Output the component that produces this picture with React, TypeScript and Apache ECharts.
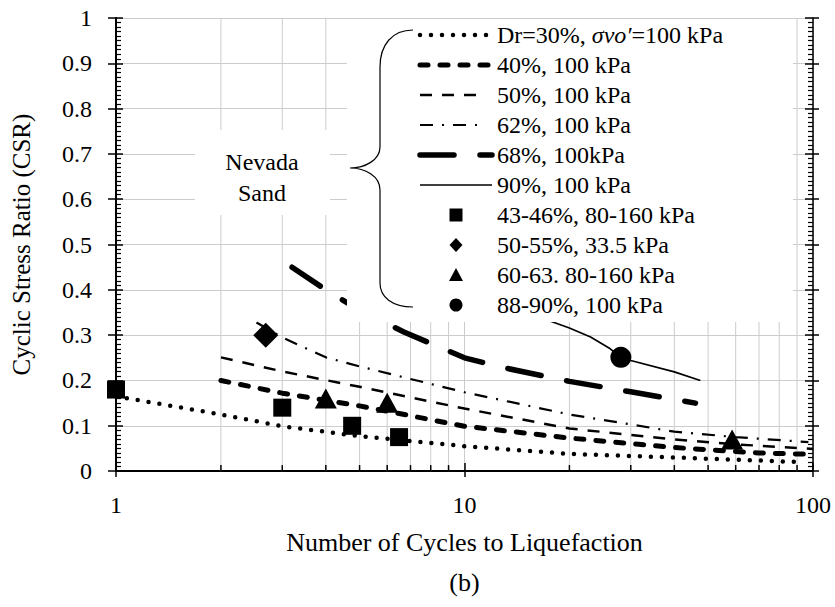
import React, { useEffect, useRef } from "react";
import * as echarts from "echarts";

const FONT = "Liberation Serif";

// ---- data ----
const minorX = [2, 3, 4, 5, 6, 7, 8, 9, 20, 30, 40, 50, 60, 70, 80, 90];

const dr30N = [1, 2, 3, 5, 10, 20, 40, 92];
const dr30CSR = [0.165, 0.125, 0.099, 0.077, 0.055, 0.038, 0.03, 0.02];

const dr40N = [2, 3, 5, 10, 20, 40, 70, 100];
const dr40CSR = [0.2, 0.172, 0.144, 0.099, 0.073, 0.052, 0.04, 0.037];

const dr50N = [2, 3, 5, 10, 20, 30, 40, 60, 100];
const dr50CSR = [0.251, 0.22, 0.186, 0.138, 0.094, 0.08, 0.07, 0.059, 0.049];

const dr62N = [2.53, 3, 4, 5, 10, 20, 30, 40, 60, 97];
const dr62CSR = [0.328, 0.295, 0.251, 0.231, 0.174, 0.125, 0.103, 0.087, 0.075, 0.064];

const dr68N = [3.2, 4, 5, 6.7, 10, 13, 20, 30, 46];
const dr68CSR = [0.45, 0.4, 0.355, 0.307, 0.25, 0.228, 0.198, 0.175, 0.15];

const dr90N = [12, 14.7, 20, 23, 26.2, 28.1, 30, 40, 47.5];
const dr90CSR = [0.375, 0.353, 0.316, 0.296, 0.27, 0.251, 0.244, 0.219, 0.2];

const sqN = [1, 3.0, 4.76, 6.49];
const sqCSR = [0.18, 0.14, 0.1, 0.075];
const diaN = [2.69];
const diaCSR = [0.3];
const triN = [4.0, 6.0, 58.6];
const triCSR = [0.16, 0.151, 0.07];
const cirN = [28.1];
const cirCSR = [0.251];

const legendLabels = [
  "Dr=30%, σvo′=100 kPa",
  "40%, 100 kPa",
  "50%, 100 kPa",
  "62%, 100 kPa",
  "68%, 100kPa",
  "90%, 100 kPa",
  "43-46%, 80-160 kPa",
  "50-55%, 33.5 kPa",
  "60-63. 80-160 kPa",
  "88-90%, 100 kPa",
];

const xAxisTitle = "Number of Cycles to Liquefaction";
const subTitle = "(b)";
const yAxisTitle = "Cyclic Stress Ratio (CSR)";

// ---- styles ----
const lineStyles: any[] = [
  { width: 4.5, type: [0, 11], cap: "round" },
  { width: 5, type: [8, 12], cap: "round" },
  { width: 2.5, type: [12, 10], cap: "butt" },
  { width: 2.2, type: [13, 9, 2, 9], cap: "butt" },
  { width: 5.5, type: [34, 26], cap: "round" },
  { width: 1.6, type: "solid", cap: "butt" },
];
const legendLineEnds = [492, 492, 478, 483, 492, 492];

const BRACE_D =
  "M413,30 C392,30 380,45 380,67 L380,147 C380,160 365,168 350,168 C365,168 380,176 380,190 L380,283 C380,297 392,307 413,307";

const zip = (a: number[], b: number[]) => a.map((v, i) => [v, b[i]]);

function buildOption() {
  const lineData = [
    zip(dr30N, dr30CSR),
    zip(dr40N, dr40CSR),
    zip(dr50N, dr50CSR),
    zip(dr62N, dr62CSR),
    zip(dr68N, dr68CSR),
    zip(dr90N, dr90CSR),
  ];

  const lineSeries = lineData.map((d, i) => ({
    type: "line",
    name: legendLabels[i],
    data: d,
    xAxisIndex: 0,
    yAxisIndex: 0,
    showSymbol: false,
    symbol: "none",
    silent: true,
    z: 2,
    lineStyle: { color: "#000", opacity: 1, ...lineStyles[i] },
  }));

  const scatterDefs = [
    { data: zip(sqN, sqCSR), symbol: "rect", size: 18, name: legendLabels[6] },
    { data: zip(diaN, diaCSR), symbol: "diamond", size: 25, name: legendLabels[7] },
    { data: zip(triN, triCSR), symbol: "triangle", size: [22, 20], name: legendLabels[8] },
    { data: zip(cirN, cirCSR), symbol: "circle", size: 21, name: legendLabels[9] },
  ];
  const scatterSeries = scatterDefs.map((s) => ({
    type: "scatter",
    name: s.name,
    data: s.data,
    symbol: s.symbol,
    symbolSize: s.size,
    xAxisIndex: 0,
    yAxisIndex: 0,
    clip: false,
    silent: true,
    z: 3,
    itemStyle: { color: "#000", opacity: 1 },
  }));

  const minorSeries = {
    type: "custom",
    xAxisIndex: 0,
    yAxisIndex: 0,
    z: 1,
    silent: true,
    data: minorX.map((v) => [v, 0]),
    encode: { x: 0, y: 1 },
    renderItem: (_p: any, api: any) => {
      const v = api.value(0);
      const b = api.coord([v, 0]);
      const t = api.coord([v, 1]);
      return {
        type: "group",
        children: [
          {
            type: "line",
            shape: { x1: b[0], y1: b[1], x2: t[0], y2: t[1] },
            style: { stroke: "#cccccc", lineWidth: 1 },
          },
          {
            type: "line",
            shape: { x1: b[0], y1: b[1], x2: b[0], y2: b[1] - 6 },
            style: { stroke: "#000", lineWidth: 1.5 },
          },
        ],
      };
    },
  };

  // ---- legend graphic ----
  const rowY = (i: number) => 35 + 30 * i;
  const txt = (text: string, x: number, y: number, align: string, rich?: any) => ({
    type: "text",
    x,
    y,
    z: 51,
    style: {
      text,
      fontSize: 24,
      fontFamily: FONT,
      fill: "#000",
      align,
      verticalAlign: "middle",
      textAlign: align,
      textVerticalAlign: "middle",
      rich,
    },
  });
  const graphics: any[] = [
    { type: "rect", shape: { x: 347, y: 19, width: 446, height: 303 }, style: { fill: "#fff" }, z: 50 },
    { type: "rect", shape: { x: 195, y: 130, width: 135, height: 85 }, style: { fill: "#fff" }, z: 50 },
    txt("Nevada", 262, 162, "center"),
    txt("Sand", 262, 193, "center"),
    { type: "brace", x: 0, y: 0, z: 51, style: { fill: "none", stroke: "#000", lineWidth: 1.2 } },
  ];

  legendLabels.forEach((lab, i) => {
    const y = rowY(i);
    if (i === 0) {
      graphics.push(
        txt(lab.replace("σvo′", "{i|σvo′}"), 497, y, "left", {
          i: { fontStyle: "italic", fontSize: 24, fontFamily: FONT, fill: "#000" },
        })
      );
    } else {
      graphics.push(txt(lab, 497, y, "left"));
    }
    if (i < 6) {
      const ls = lineStyles[i];
      graphics.push({
        type: "line",
        z: 51,
        shape: { x1: 420, y1: y, x2: legendLineEnds[i], y2: y },
        style: {
          stroke: "#000",
          lineWidth: ls.width,
          lineDash: Array.isArray(ls.type) ? ls.type : null,
          lineCap: ls.cap,
        },
      });
    }
  });
  const mx = 456;
  graphics.push({ type: "rect", z: 51, shape: { x: mx - 6.5, y: rowY(6) - 6.5, width: 13, height: 13 }, style: { fill: "#000" } });
  graphics.push({
    type: "polygon",
    z: 51,
    shape: { points: [[mx, rowY(7) - 7], [mx + 6.5, rowY(7)], [mx, rowY(7) + 7], [mx - 6.5, rowY(7)]] },
    style: { fill: "#000" },
  });
  graphics.push({
    type: "polygon",
    z: 51,
    shape: { points: [[mx, rowY(8) - 7], [mx + 7, rowY(8) + 6], [mx - 7, rowY(8) + 6]] },
    style: { fill: "#000" },
  });
  graphics.push({ type: "circle", z: 51, shape: { cx: mx, cy: rowY(9), r: 6.5 }, style: { fill: "#000" } });

  const axisLineStyle = { color: "#000", width: 2 };
  const tickStyle = { color: "#000", width: 1.5 };
  const labelStyle = { color: "#000", fontSize: 24, fontFamily: FONT };

  const logBase = { type: "log", logBase: 10, min: 1, max: 100 };
  const yBase = { type: "value", min: 0, max: 1, interval: 0.1 };

  return {
    animation: false,
    backgroundColor: "#fff",
    textStyle: { fontFamily: FONT },
    grid: { left: 116, right: 22, top: 18, bottom: 119, containLabel: false },
    xAxis: [
      {
        ...logBase,
        position: "bottom",
        axisLine: { show: true, lineStyle: axisLineStyle },
        axisTick: { show: true, inside: false, length: 6, lineStyle: tickStyle },
        axisLabel: { ...labelStyle, margin: 22 },
        splitLine: { show: true, lineStyle: { color: "#cccccc", width: 1 } },
        name: xAxisTitle + "\n" + subTitle,
        nameLocation: "middle",
        nameGap: 38,
        nameTextStyle: { color: "#000", fontSize: 26, fontFamily: FONT, lineHeight: 40 },
      },
      {
        ...logBase,
        position: "bottom",
        axisLine: { show: false },
        axisTick: { show: true, inside: true, length: 8, lineStyle: tickStyle },
        axisLabel: { show: false },
        splitLine: { show: false },
      },
      {
        ...logBase,
        position: "top",
        axisLine: { show: true, lineStyle: { color: "#000", width: 1.5 } },
        axisTick: { show: false },
        axisLabel: { show: false },
        splitLine: { show: false },
      },
    ],
    yAxis: [
      {
        ...yBase,
        position: "left",
        axisLine: { show: true, lineStyle: axisLineStyle },
        axisTick: { show: true, inside: false, length: 8, lineStyle: tickStyle },
        axisLabel: { ...labelStyle, margin: 24 },
        splitLine: { show: true, lineStyle: { color: "#cccccc", width: 1 } },
        name: yAxisTitle,
        nameLocation: "middle",
        nameGap: 82,
        nameTextStyle: { color: "#000", fontSize: 25, fontFamily: FONT },
      },
      {
        ...yBase,
        position: "left",
        axisLine: { show: false },
        axisTick: { show: true, inside: true, length: 7, lineStyle: tickStyle },
        minorTick: { show: true, splitNumber: 10, length: 5, lineStyle: { color: "#000", width: 1.2 } },
        axisLabel: { show: false },
        splitLine: { show: false },
      },
      {
        ...yBase,
        position: "right",
        axisLine: { show: true, lineStyle: { color: "#000", width: 1.5 } },
        axisTick: { show: true, inside: true, length: 8, lineStyle: tickStyle },
        minorTick: { show: true, splitNumber: 10, length: 5, lineStyle: { color: "#000", width: 1.2 } },
        axisLabel: { show: false },
        splitLine: { show: false },
      },
      {
        ...yBase,
        position: "right",
        axisLine: { show: false },
        axisTick: { show: true, inside: false, length: 6, lineStyle: tickStyle },
        axisLabel: { show: false },
        splitLine: { show: false },
      },
    ],
    graphic: { elements: graphics },
    series: [minorSeries, ...lineSeries, ...scatterSeries],
  };
}

export default function App() {
  const ref = useRef<HTMLDivElement>(null);
  useEffect(() => {
    if (!ref.current) return;
    echarts.graphic.registerShape("brace", echarts.graphic.extendPath(BRACE_D, {}));
    const chart = echarts.init(ref.current, null, { renderer: "svg" });
    chart.setOption(buildOption() as any);
    return () => chart.dispose();
  }, []);
  return <div ref={ref} style={{ position: "absolute", left: 0, top: 0, width: 835, height: 607 }} />;
}
